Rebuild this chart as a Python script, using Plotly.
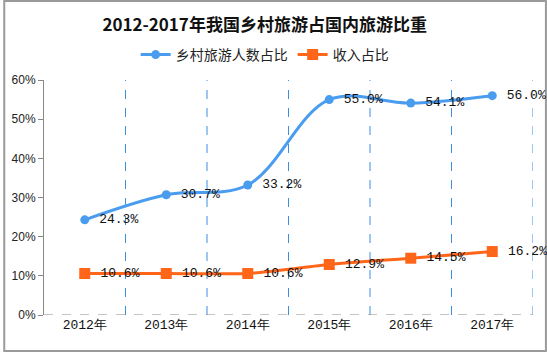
import plotly.graph_objects as go

years = ["2012年", "2013年", "2014年", "2015年", "2016年", "2017年"]
tourists_share = [24.3, 30.7, 33.2, 55.0, 54.1, 56.0]
income_share = [10.6, 10.6, 10.6, 12.9, 14.5, 16.2]
y_ticks = [0, 10, 20, 30, 40, 50, 60]
y_tick_labels = ["0%", "10%", "20%", "30%", "40%", "50%", "60%"]

W, H = 547, 352
ML, MR, MT, MB = 41, 14, 80, 37
MONO = "Liberation Mono, DejaVu Sans Mono, monospace"

fig = go.Figure()
fig.add_trace(go.Scatter(
    x=years, y=tourists_share, name="乡村旅游人数占比",
    mode="lines+markers+text", cliponaxis=False,
    line=dict(color="#4a9cef", width=3, shape="spline", smoothing=1.0),
    marker=dict(symbol="circle", size=9, color="#4a9cef"),
    text=[f" {v:.1f}%" for v in tourists_share],
    textposition="middle right",
    textfont=dict(family=MONO, size=13, color="#111"),
))
fig.add_trace(go.Scatter(
    x=years, y=income_share, name="收入占比",
    mode="lines+markers+text", cliponaxis=False,
    line=dict(color="#ff6619", width=3, shape="spline", smoothing=0.6),
    marker=dict(symbol="square", size=11, color="#ff6619"),
    text=[f" {v:.1f}%" for v in income_share],
    textposition="middle right",
    textfont=dict(family=MONO, size=13, color="#111"),
))

pw = W - ML - MR
ph = H - MT - MB
fig.add_shape(type="rect", xref="paper", yref="paper",
              x0=-(ML - 1) / pw, x1=(W - ML - 1) / pw,
              y0=-(MB - 1) / ph, y1=(H - MB - 1) / ph,
              line=dict(color="#9a9a9a", width=2), layer="below")

# vertical dashed separators at category boundaries
for i in range(len(years)):
    fig.add_shape(type="line", xref="x", yref="paper",
                  x0=i + 0.5, x1=i + 0.5, y0=0, y1=1,
                  line=dict(color="#3a8fe0", width=1, dash="dash"), layer="below")

cx = (263 - ML) / pw
fig.update_layout(
    width=W, height=H,
    margin=dict(l=ML, r=MR, t=MT, b=MB),
    paper_bgcolor="white", plot_bgcolor="white",
    title=dict(text="<b>2012-2017年我国乡村旅游占国内旅游比重</b>",
               x=cx, xref="paper", xanchor="center", y=1 - 25 / H, yanchor="middle",
               font=dict(family="Noto Sans CJK SC", size=17, color="#111")),
    legend=dict(orientation="h", x=cx, xanchor="center", xref="paper",
                y=1 + 25 / ph, yanchor="middle",
                font=dict(family="Noto Sans CJK SC", size=14, color="#222"),
                itemwidth=30),
    showlegend=True,
    xaxis=dict(type="category", range=[-0.5, 5.5],
               showgrid=False, showline=False, zeroline=False,
               ticks="",
               tickfont=dict(family=MONO, size=13, color="#111")),
    yaxis=dict(range=[0, 60], tickvals=y_ticks, ticktext=y_tick_labels,
               showgrid=False, zeroline=False, showline=True, linecolor="#888",
               linewidth=1, ticks="outside", ticklen=5, tickcolor="#888",
               tickfont=dict(family="Liberation Sans, Arial, sans-serif", size=12, color="#222")),
)
# dashed baseline at 0%
fig.add_hline(y=0, line=dict(color="#888", width=1, dash="dash"))

fig.write_html("out.html")
